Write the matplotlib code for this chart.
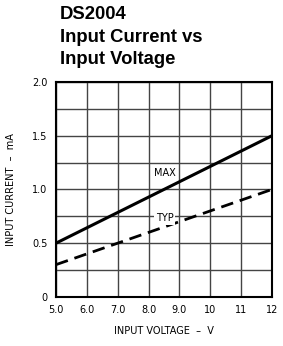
import matplotlib
matplotlib.use('Agg')
import matplotlib.pyplot as plt

voltage = [5.0, 12.0]
current_max = [0.5, 1.5]
current_typ = [0.3, 1.0]
xticks = [5, 6, 7, 8, 9, 10, 11, 12]
xlabels = ['5.0', '6.0', '7.0', '8.0', '9.0', '10', '11', '12']
yticks = [0, 0.5, 1.0, 1.5, 2.0]
ylabels = ['0', '0.5', '1.0', '1.5', '2.0']

fig = plt.figure(figsize=(2.83, 3.46), dpi=100)
ax = fig.add_axes([0.198, 0.142, 0.763, 0.621])

ax.plot(voltage, current_max, color='black', lw=2.2, solid_capstyle='butt')
ax.plot(voltage, current_typ, color='black', lw=2.0, dashes=(4.5, 2.5))

ax.set_xlim(5, 12)
ax.set_ylim(0, 2.0)
ax.set_xticks(xticks)
ax.set_xticklabels(xlabels)
ax.set_yticks(yticks)
ax.set_yticklabels(ylabels)
ax.set_yticks([0.25 * i for i in range(9)], minor=True)
ax.grid(True, which='both', color='#444444', lw=1.0)
ax.tick_params(which='both', length=0, labelsize=7, pad=6)
for s in ax.spines.values():
    s.set_linewidth(1.5)
    s.set_color('black')

ax.text(8.52, 1.15, 'MAX', fontsize=7, ha='center', va='center',
        bbox=dict(facecolor='white', edgecolor='none', pad=1))
ax.text(8.52, 0.73, 'TYP', fontsize=7, ha='center', va='center',
        bbox=dict(facecolor='white', edgecolor='none', pad=1))

ax.set_xlabel('INPUT VOLTAGE  –  V', fontsize=7, labelpad=8)
ax.set_ylabel('INPUT CURRENT  –  mA', fontsize=7, labelpad=12)

fig.text(0.212, 0.957, 'DS2004', fontsize=13.3, fontweight='bold',
         family='Liberation Sans', va='center')
fig.text(0.212, 0.892, 'Input Current vs', fontsize=13.3, fontweight='bold',
         family='Liberation Sans', va='center')
fig.text(0.212, 0.827, 'Input Voltage', fontsize=13.3, fontweight='bold',
         family='Liberation Sans', va='center')

fig.savefig('out.png', dpi=100)
